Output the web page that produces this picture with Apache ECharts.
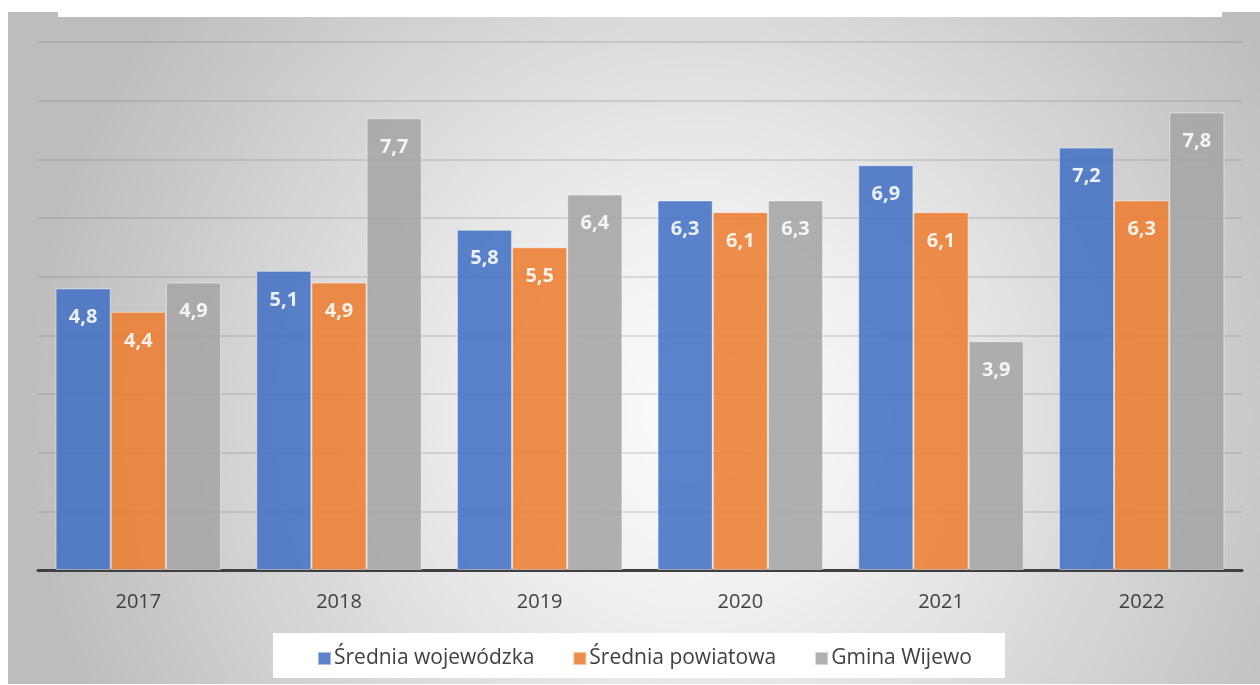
<!DOCTYPE html>
<html>
<head>
<meta charset="utf-8">
<script src="https://cdn.jsdelivr.net/npm/echarts@6/dist/echarts.min.js"></script>
<style>
  html, body { margin: 0; padding: 0; background: #fff; }
  #main { width: 1260px; height: 685px; }
</style>
</head>
<body>
<div id="main"></div>
<script>
var years = ['2017', '2018', '2019', '2020', '2021', '2022'];
var wojewodzka = [4.8, 5.1, 5.8, 6.3, 6.9, 7.2];
var powiatowa = [4.4, 4.9, 5.5, 6.1, 6.1, 6.3];
var wijewo = [4.9, 7.7, 6.4, 6.3, 3.9, 7.8];
var names = ['Średnia wojewódzka', 'Średnia powiatowa', 'Gmina Wijewo'];
var colors = ['#4472C4', '#ED7D31', '#A5A5A5'];

var font = '"Open Sans", "Noto Sans", sans-serif';
var myChart = echarts.init(document.getElementById('main'));

function makeSeries(name, data, color) {
	return {
		name: name,
		type: 'bar',
		data: data,
		barGap: '0%',
		barCategoryGap: '17.5%',
		itemStyle: {
			color: color,
			opacity: 0.88,
			borderColor: 'rgba(255,255,255,0.55)',
			borderWidth: 1
		},
		label: {
			show: true,
			position: 'insideTop',
			distance: 19,
			color: '#fff',
			fontFamily: font,
			fontWeight: 'bold',
			fontSize: 20,
			formatter: function (p) { return String(p.value).replace('.', ','); }
		}
	};
}

option = {
	animation: false,
	color: colors,
	graphic: [
		{
			type: 'rect', z: -10, silent: true,
			shape: { x: 8, y: 12, width: 1252, height: 672 },
			style: {
				fill: {
					type: 'radial', x: 0.55, y: 0.6, r: 1.0,
					colorStops: [
						{ offset: 0, color: '#fcfcfc' },
						{ offset: 0.3, color: '#efefef' },
						{ offset: 1, color: '#bdbdbd' }
					]
				}
			}
		},
		{
			type: 'rect', z: -9, silent: true,
			shape: { x: 58, y: 0, width: 1164, height: 17 },
			style: { fill: '#fff' }
		},
		{
			type: 'rect', z: -9, silent: true,
			shape: { x: 273, y: 633, width: 732, height: 45 },
			style: { fill: '#fff' }
		}
	],
	legend: {
		data: names,
		left: 312,
		top: 643,
		itemWidth: 13,
		itemHeight: 13,
		itemGap: 38,
		icon: 'rect',
		textStyle: { color: '#404040', fontFamily: font, fontSize: 21, padding: [0, 0, 0, -2] }
	},
	grid: {
		left: 38,
		right: 18,
		top: 42,
		bottom: 115
	},
	xAxis: [
		{
			type: 'category',
			data: years,
			axisLine: { lineStyle: { color: '#404040', width: 3 } },
			axisTick: { show: false },
			axisLabel: { color: '#404040', fontFamily: font, fontSize: 20, margin: 22 }
		}
	],
	yAxis: [
		{
			type: 'value',
			min: 0,
			max: 9,
			interval: 1,
			axisLabel: { show: false },
			axisLine: { show: false },
			axisTick: { show: false },
			splitLine: { lineStyle: { color: 'rgba(120,120,120,0.3)', width: 1.5 } }
		}
	],
	series: [
		makeSeries(names[0], wojewodzka, colors[0]),
		makeSeries(names[1], powiatowa, colors[1]),
		makeSeries(names[2], wijewo, colors[2])
	]
};
myChart.setOption(option);
</script>
</body>
</html>
